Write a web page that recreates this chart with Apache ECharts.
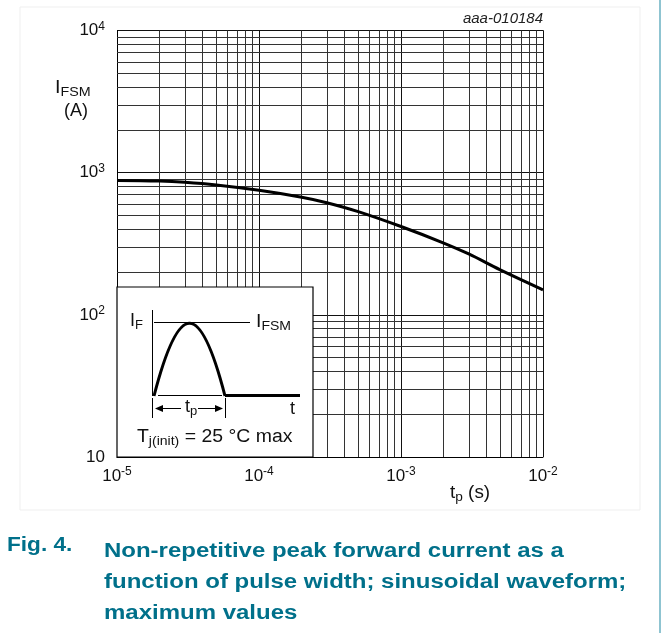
<!DOCTYPE html>
<html>
<head>
<meta charset="utf-8">
<script src="https://cdn.jsdelivr.net/npm/echarts@6/dist/echarts.min.js"></script>
<style>
html, body { margin: 0; padding: 0; background: #fff; }
#panel { width: 662px; height: 633px; }
</style>
</head>
<body>
<div id="panel"></div>
<script>
// pulse width tp (s) and max IFSM (A)
var tpValues = [1e-5, 2e-5, 3e-5, 5e-5, 1e-4, 2e-4, 3e-4, 5e-4, 1e-3, 2e-3, 3e-3, 5e-3, 1e-2];
var ifsmValues = [882, 873, 856, 820, 752, 672, 615, 532, 418, 320, 268, 207, 150];

var xRange = [1e-5, 1e-2];
var yRange = [10, 1e4];
var xDecades = [1e-5, 1e-4, 1e-3];
var yDecades = [10, 100, 1000];
var minorSteps = [2, 3, 4, 5, 6, 7, 8, 9];

var myChart;
var FONT = '"Liberation Sans", Arial, sans-serif';
var TEAL = '#00708a';

function expOf(v)
{
    return Math.round(Math.log(v) / Math.LN10);
}

// minor grid lines (2..9 of every decade), as coord pairs on the log axes
function minorLines()
{
    var lines = [];
    xDecades.forEach(function(d)
    {
        minorSteps.forEach(function(k)
        {
            lines.push([{coord: [d * k, yRange[0]]}, {coord: [d * k, yRange[1]]}]);
        });
    });
    yDecades.forEach(function(d)
    {
        minorSteps.forEach(function(k)
        {
            lines.push([{coord: [xRange[0], d * k]}, {coord: [xRange[1], d * k]}]);
        });
    });
    return lines;
}

function supLabel(v, isY)
{
    var e = expOf(v);
    if (isY && e === 1) return '{b|10}';
    return '{b|10}{s|' + e + '}';
}

var richLabel = {
    b: {fontSize: 17, fontFamily: FONT, color: '#111', lineHeight: 20},
    s: {fontSize: 12, fontFamily: FONT, color: '#111', lineHeight: 12, verticalAlign: 'top'}
};

var richSub = {
    m: {fontSize: 18, fontFamily: FONT, fill: '#111', lineHeight: 20, verticalAlign: 'top'},
    sub: {fontSize: 13, fontFamily: FONT, fill: '#111', lineHeight: 15, padding: [7, 0, 0, 0], verticalAlign: 'top'}
};

function subText(x, y, str, sx)
{
    return {type: 'text', x: x, y: y, scaleX: sx || 1,
            style: {text: str, rich: richSub, verticalAlign: 'top'}};
}

window.onload = function()
{
    myChart = echarts.init(document.getElementById('panel'));
    var data = tpValues.map(function(t, i) { return [t, ifsmValues[i]]; });

    // inset waveform sketch (schematic only), drawn above the grid
    var insetParts = [
        {type: 'rect', shape: {x: 117, y: 287, width: 196, height: 170},
         style: {fill: '#fff', stroke: '#000', lineWidth: 1.2}},
        {type: 'line', shape: {x1: 152.5, y1: 310, x2: 152.5, y2: 396},
         style: {stroke: '#000', lineWidth: 1}},
        {type: 'line', shape: {x1: 154, y1: 322.5, x2: 250, y2: 322.5},
         style: {stroke: '#000', lineWidth: 1}},
        {type: 'line', shape: {x1: 158, y1: 395.5, x2: 222, y2: 395.5},
         style: {stroke: '#000', lineWidth: 1.2}},
        {type: 'bezierCurve', shape: {x1: 154, y1: 396, cpx1: 179, cpy1: 299, cpx2: 200, cpy2: 299, x2: 225, y2: 396},
         style: {stroke: '#000', lineWidth: 3, fill: null}},
        {type: 'line', shape: {x1: 225, y1: 395.5, x2: 300, y2: 395.5},
         style: {stroke: '#000', lineWidth: 3}},
        {type: 'line', shape: {x1: 152.5, y1: 398, x2: 152.5, y2: 418},
         style: {stroke: '#000', lineWidth: 1}},
        {type: 'line', shape: {x1: 225.5, y1: 398, x2: 225.5, y2: 418},
         style: {stroke: '#000', lineWidth: 1}},
        {type: 'line', shape: {x1: 156, y1: 408.5, x2: 181, y2: 408.5},
         style: {stroke: '#000', lineWidth: 1}},
        {type: 'polygon', shape: {points: [[155, 408.5], [163, 405], [163, 412]]},
         style: {fill: '#000'}},
        {type: 'line', shape: {x1: 198, y1: 408.5, x2: 222, y2: 408.5},
         style: {stroke: '#000', lineWidth: 1}},
        {type: 'polygon', shape: {points: [[223, 408.5], [215, 405], [215, 412]]},
         style: {fill: '#000'}},
        subText(130, 312, '{m|I}{sub|F}'),
        subText(256, 313, '{m|I}{sub|FSM}', 1.08),
        {type: 'text', x: 290, y: 400,
         style: {text: 't', font: '18px ' + FONT, fill: '#111', verticalAlign: 'top'}},
        subText(185, 398, '{m|t}{sub|p}'),
        subText(137, 428, '{m|T}{sub|j(init)}{m| = 25 °C max}', 1.08)
    ];
    insetParts.forEach(function(p) { p.z = 100; });

    myChart.setOption(
    {
        backgroundColor: '#fff',
        animation: false,
        grid: {left: 117, right: 119, top: 30.5, bottom: 176, containLabel: false},
        xAxis: {
            type: 'log',
            logBase: 10,
            min: xRange[0],
            max: xRange[1],
            axisLine: {show: true, lineStyle: {color: '#000', width: 1}},
            axisTick: {show: false},
            splitLine: {show: true, lineStyle: {color: '#111', width: 1}},
            axisLabel: {
                margin: 9,
                formatter: function(v) { return supLabel(v, false); },
                rich: richLabel
            }
        },
        yAxis: {
            type: 'log',
            logBase: 10,
            min: yRange[0],
            max: yRange[1],
            axisLine: {show: true, lineStyle: {color: '#000', width: 1}},
            axisTick: {show: false},
            splitLine: {show: true, lineStyle: {color: '#111', width: 1}},
            axisLabel: {
                margin: 12,
                formatter: function(v) { return supLabel(v, true); },
                rich: richLabel
            }
        },
        series: [
            {
                type: 'line',
                data: [],
                z: 1,
                silent: true,
                markLine: {
                    silent: true,
                    symbol: 'none',
                    label: {show: false},
                    lineStyle: {color: '#333', width: 1, type: 'solid'},
                    data: minorLines()
                }
            },
            {
                type: 'line',
                data: data,
                z: 5,
                smooth: 0.4,
                showSymbol: false,
                lineStyle: {color: '#000', width: 3}
            }
        ],
        graphic: [
            {type: 'rect', z: -1, shape: {x: 20, y: 7, width: 620, height: 503},
             style: {fill: null, stroke: '#efefef', lineWidth: 1}},
            {type: 'line', shape: {x1: 660, y1: 0, x2: 660, y2: 633},
             style: {stroke: '#8fc4d1', lineWidth: 2}},
            {type: 'text', right: 119, top: 11,
             style: {text: 'aaa-010184', font: 'italic 15px ' + FONT, fill: '#222'}},
            subText(55, 79, '{m|I}{sub|FSM}', 1.1),
            {type: 'text', x: 64, y: 102,
             style: {text: '(A)', font: '18px ' + FONT, fill: '#111', verticalAlign: 'top'}},
            subText(450, 484, '{m|t}{sub|p}{m| (s)}', 1.05),
            {type: 'group', children: insetParts},
            {type: 'text', x: 7, y: 536, scaleX: 1.16,
             style: {text: 'Fig. 4.', font: 'bold 19.5px ' + FONT, fill: TEAL, verticalAlign: 'top'}},
            {type: 'text', x: 104, y: 536, scaleX: 1.23,
             style: {text: 'Non-repetitive peak forward current as a\nfunction of pulse width; sinusoidal waveform;\nmaximum values',
                     font: 'bold 19.5px ' + FONT, fill: TEAL, lineHeight: 31, verticalAlign: 'top'}}
        ]
    });
};
</script>
</body>
</html>
